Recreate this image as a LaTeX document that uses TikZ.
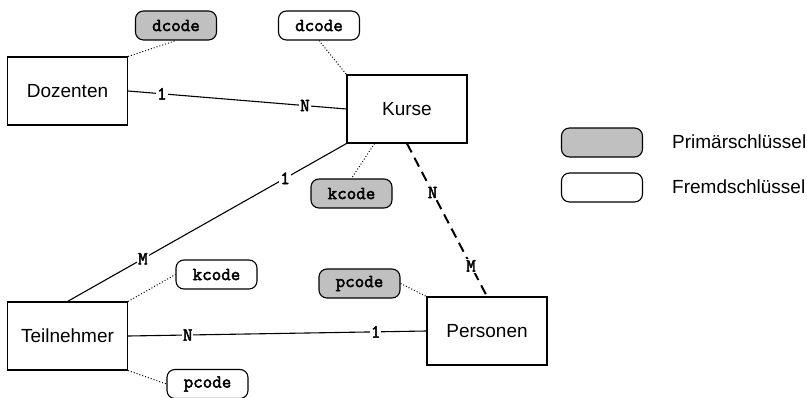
\documentclass[tikz,border=0pt]{standalone}
\usepackage{fontspec}
\setmainfont{Liberation Sans}
\newfontfamily\keyfont[FakeBold=2.5]{Latin Modern Mono}
\usetikzlibrary{calc}
\definecolor{keygray}{RGB}{192,192,192}
\tikzset{
  entity/.style={draw, line width=1.1pt, minimum width=120pt, minimum height=68pt, inner sep=0pt, font=\fontsize{19}{19}\selectfont},
  keybox/.style={draw, line width=1.1pt, rounded corners=8pt, minimum width=81pt, minimum height=29pt, inner sep=0pt, font=\keyfont\fontsize{18.5}{18.5}\selectfont},
  pkey/.style={keybox, fill=keygray},
  fkey/.style={keybox, fill=white},
  rel/.style={line width=1.1pt},
  reldash/.style={line width=2pt, dash pattern=on 10pt off 6pt},
  attach/.style={line width=1pt, dotted},
  card/.style={fill=white, inner sep=1pt, font=\keyfont\fontsize{18.5}{18.5}\selectfont},
  legtext/.style={anchor=west, inner sep=0pt, font=\fontsize{19}{19}\selectfont}
}
\begin{document}
\begin{tikzpicture}[x=1pt,y=-1pt]
\useasboundingbox (0,0) rectangle (807,397);
% entities
\node[entity] (doz) at (67.5,91) {Dozenten};
\node[entity] (kur) at (407,109) {Kurse};
\node[entity] (per) at (487,331) {Personen};
\node[entity] (tei) at (67.5,336) {Teilnehmer};
% keys
\node[pkey] (dcodeP) at (176,25.5) {dcode};
\node[fkey] (dcodeF) at (319,25.5) {dcode};
\node[pkey] (kcodeP) at (351.5,193.5) {kcode};
\node[pkey] (pcodeP) at (359.5,283.5) {pcode};
\node[fkey] (kcodeF) at (216.5,274.5) {kcode};
\node[fkey] (pcodeF) at (207.5,384) {pcode};
% relationships
\draw[rel] (doz.east) -- node[card, pos=0.155] {1} node[card, pos=0.81] {N} (kur.west);
\draw[rel] (kur.south west) -- node[card, pos=0.22] {1} node[card, pos=0.73] {M} (tei.north);
\draw[reldash] (kur.south) -- node[card, pos=0.32] {N} node[card, pos=0.8] {M} (per.north);
\draw[rel] (tei.east) -- node[card, pos=0.2] {N} node[card, pos=0.83] {1} (per.west);
% attachments
\draw[attach] (doz.north east) -- (dcodeP.south);
\draw[attach] (dcodeF.south) -- (kur.north west);
\coordinate (kurk) at ($(kur.south west)+(28,0)$);
\draw[attach] (kurk) -- (kcodeP.north);
\draw[attach] (pcodeP.east) -- (per.north west);
\draw[attach] (tei.north east) -- (kcodeF.west);
\draw[attach] (tei.south east) -- (pcodeF.west);
% legend
\node[pkey] (legP) at (602,142.5) {};
\node[fkey] (legF) at (602,187.5) {};
\node[legtext] (legPt) at (672,142) {Primärschlüssel};
\node[legtext] (legFt) at (672,187) {Fremdschlüssel};
\end{tikzpicture}
\end{document}
